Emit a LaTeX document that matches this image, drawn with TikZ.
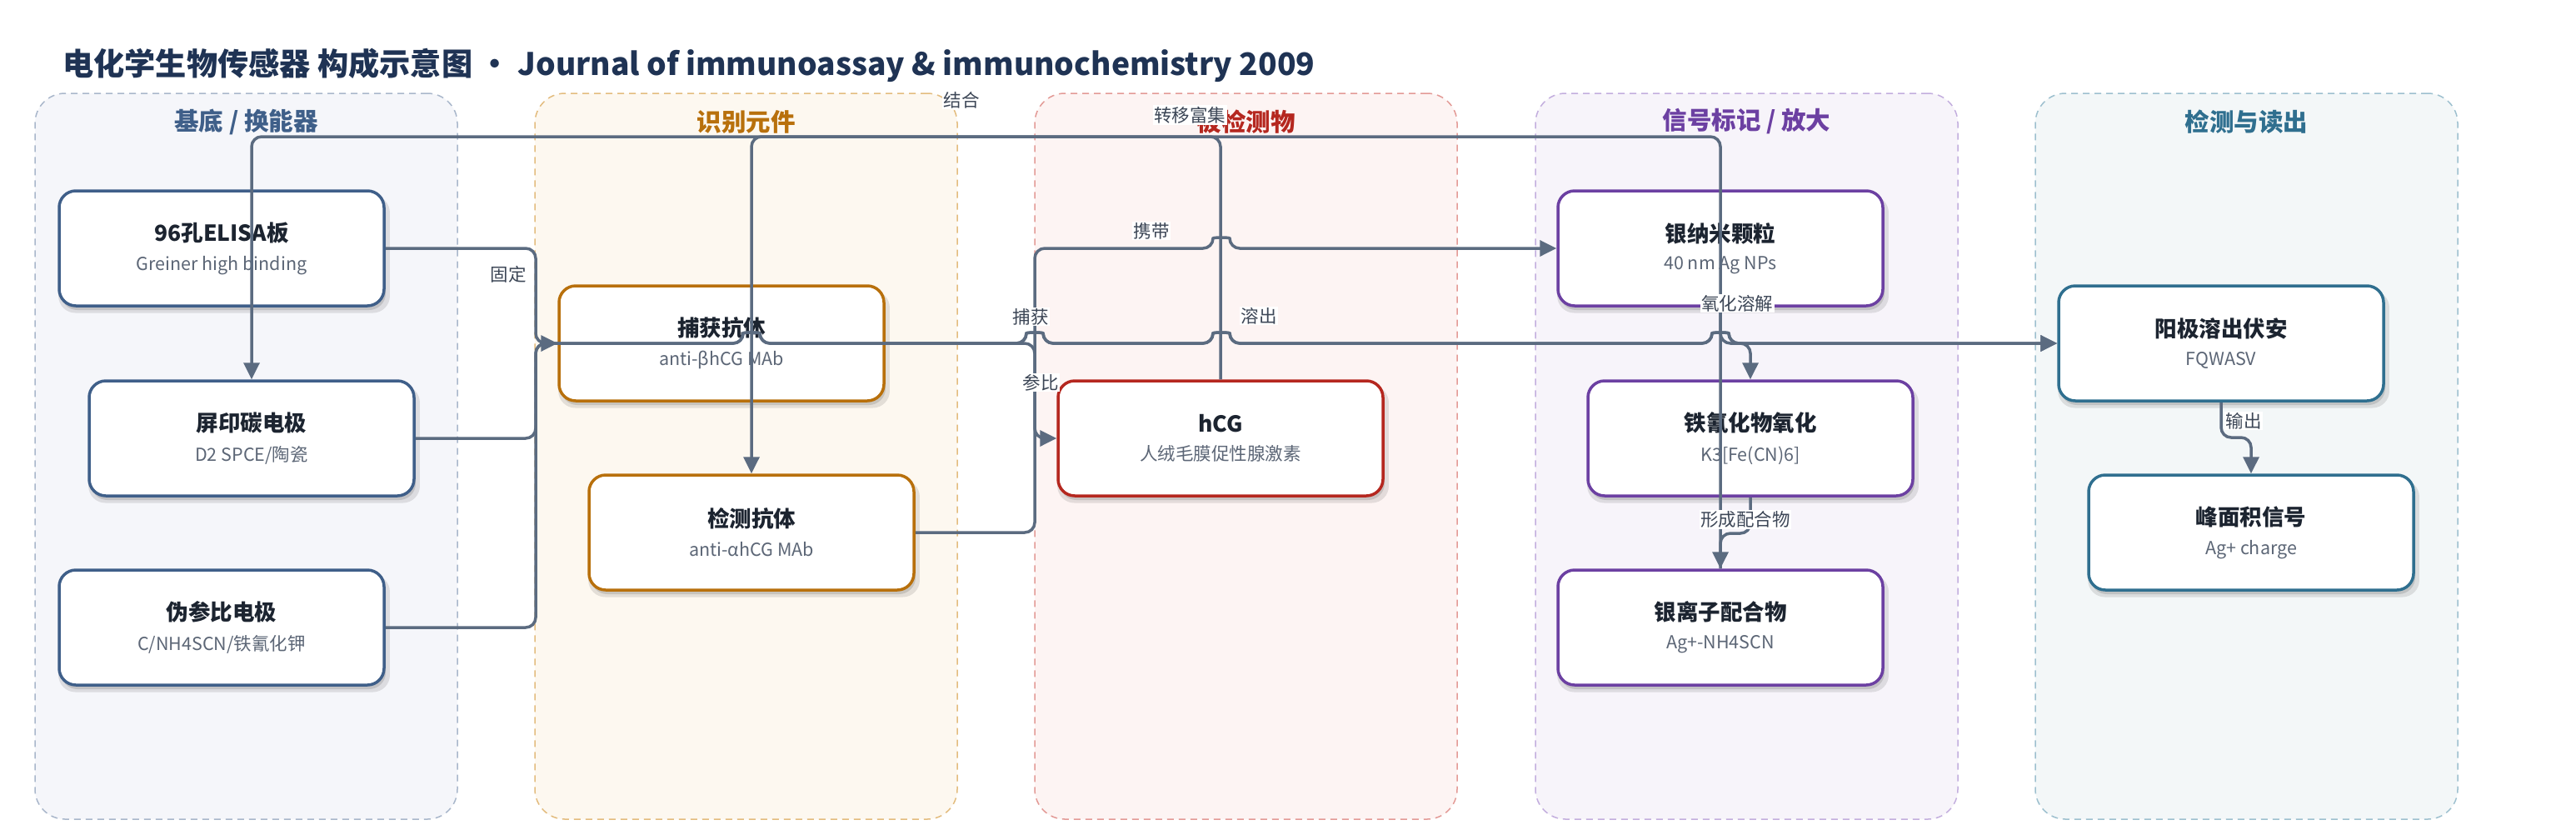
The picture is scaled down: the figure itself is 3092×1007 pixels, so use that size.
\documentclass[tikz,border=0pt]{standalone}
\usepackage{fontspec}
\setmainfont{Noto Sans CJK SC}
\usetikzlibrary{arrows.meta,shadows}
\definecolor{titlec}{HTML}{1F3354}
\definecolor{edgec}{HTML}{5B6B80}
\definecolor{labc}{HTML}{3C4656}
\definecolor{ntc}{HTML}{1C2430}
\definecolor{subc}{HTML}{5C6676}
\definecolor{cA}{HTML}{3F5F89}
\definecolor{cB}{HTML}{B8700C}
\definecolor{cC}{HTML}{B5271F}
\definecolor{cD}{HTML}{6C40A2}
\definecolor{cE}{HTML}{2F6F8F}
\definecolor{fA}{HTML}{F5F6FA}
\definecolor{fB}{HTML}{FDF8F0}
\definecolor{fC}{HTML}{FDF4F3}
\definecolor{fD}{HTML}{F7F4FA}
\definecolor{fE}{HTML}{F3F7F8}
\definecolor{dA}{HTML}{A9B7CB}
\definecolor{dB}{HTML}{E3BC7E}
\definecolor{dC}{HTML}{E39A96}
\definecolor{dD}{HTML}{C3AEDE}
\definecolor{dE}{HTML}{9DC0CF}
\newcommand\hop[2]{-- ({#1-10},#2) .. controls ({#1-10},{#2-13.3}) and ({#1+10},{#2-13.3}) .. ({#1+10},#2)}
\newcommand\ntitle[1]{{\fontsize{26.5}{30}\selectfont\bfseries\color{ntc}#1}}
\newcommand\nsub[1]{{\fontsize{21.5}{26}\selectfont\color{subc}#1}}
\tikzset{
  lanebox/.style n args={2}{rectangle, rounded corners=36pt, fill=#1, draw=#2, dash pattern=on 8pt off 6pt, line width=1.5pt, minimum width=507pt, minimum height=871pt, inner sep=0pt},
  lanetitle/.style={font=\fontsize{29.5}{34}\selectfont\bfseries, text=#1, inner sep=0pt},
  sbox/.style={rectangle, rounded corners=20pt, draw=#1, line width=3.5pt, fill=white, minimum width=390pt, minimum height=138pt, align=center, inner sep=0pt,
    drop shadow={shadow xshift=3pt, shadow yshift=-7pt, opacity=.10, fill=black, shadow scale=1.02},
    drop shadow={shadow xshift=2pt, shadow yshift=-5pt, opacity=.12, fill=black}},
  conn/.style={draw=edgec, line width=3.5pt, rounded corners=12pt, -{Triangle[length=20pt,width=19pt]}},
  elab/.style={fill=white, inner sep=1.5pt, font=\fontsize{21.5}{24}\selectfont, text=labc}
}
\begin{document}
\begin{tikzpicture}[x=1pt,y=-1pt]
\useasboundingbox (0,0) rectangle (3092,1007);
\fill[white] (0,0) rectangle (3092,1007);
% lanes
\node[lanebox={fA}{dA}] (lane1) at (295.5,547.5) {};
\node[lanebox={fB}{dB}] (lane2) at (895.5,547.5) {};
\node[lanebox={fC}{dC}] (lane3) at (1495.5,547.5) {};
\node[lanebox={fD}{dD}] (lane4) at (2096.5,547.5) {};
\node[lanebox={fE}{dE}] (lane5) at (2696.5,547.5) {};
\node[lanetitle=cA] (lt1) at (295.5,146) {基底 / 换能器};
\node[lanetitle=cB] (lt2) at (895.5,146) {识别元件};
\node[lanetitle=cC] (lt3) at (1495.5,146) {被检测物};
\node[lanetitle=cD] (lt4) at (2096.5,146) {信号标记 / 放大};
\node[lanetitle=cE] (lt5) at (2696.5,146) {检测与读出};
% title
\node[anchor=west, inner sep=0pt, font=\fontsize{37.2}{42}\selectfont\bfseries, text=titlec] (title) at (75,78) {电化学生物传感器 构成示意图 · Journal of immunoassay \& immunochemistry 2009};
% nodes
\node[sbox=cA] (elisa) at (266,298) {\ntitle{96孔ELISA板}\\[14pt]\nsub{Greiner high binding}};
\node[sbox=cA] (spce) at (302,526) {\ntitle{屏印碳电极}\\[14pt]\nsub{D2 SPCE/陶瓷}};
\node[sbox=cA] (pref) at (266,753) {\ntitle{伪参比电极}\\[14pt]\nsub{C/NH4SCN/铁氰化钾}};
\node[sbox=cB] (capab) at (866,412) {\ntitle{捕获抗体}\\[14pt]\nsub{anti-βhCG MAb}};
\node[sbox=cB] (detab) at (902,639) {\ntitle{检测抗体}\\[14pt]\nsub{anti-αhCG MAb}};
\node[sbox=cC] (hcg) at (1465,526) {\ntitle{hCG}\\[14pt]\nsub{人绒毛膜促性腺激素}};
\node[sbox=cD] (agnp) at (2065,298) {\ntitle{银纳米颗粒}\\[14pt]\nsub{40 nm Ag NPs}};
\node[sbox=cD] (ferri) at (2101,526) {\ntitle{铁氰化物氧化}\\[14pt]\nsub{K3[Fe(CN)6]}};
\node[sbox=cD] (agcx) at (2065,753) {\ntitle{银离子配合物}\\[14pt]\nsub{Ag+-NH4SCN}};
\node[sbox=cE] (asv) at (2666,412) {\ntitle{阳极溶出伏安}\\[14pt]\nsub{FQWASV}};
\node[sbox=cE] (peak) at (2702,639) {\ntitle{峰面积信号}\\[14pt]\nsub{Ag+ charge}};
% connectors
\draw[conn] (elisa.east) -- (643,298) -- (643,412) -- (capab.west);
\draw[conn] (spce.east) -- (643,526) -- (643,412) \hop{902}{412} \hop{1242}{412} \hop{1466}{412} \hop{2065}{412} -- (asv.west);
\draw[conn] (pref.east) -- (643,753) -- (643,412) \hop{902}{412} \hop{1242}{412} \hop{1466}{412} \hop{2065}{412} -- (asv.west);
\draw[conn] (capab.east) -- (1242,412) -- (1242,526) -- (hcg.west);
\draw[conn] (detab.east) -- (1242,639) -- (1242,298) \hop{1466}{298} -- (agnp.west);
\draw[conn] (hcg.north) -- (1465,164) -- (902,164) -- (detab.north);
\draw[conn] (agcx.north) -- (2065,164) -- (302,164) -- (spce.north);
\draw[conn] (agnp.south) -- (2065,412) -- (2101,412) -- (ferri.north);
\draw[conn] (ferri.south) -- (2101,640) -- (2065,640) -- (agcx.north);
\draw[conn] (asv.south) -- (2666,525) -- (2702,525) -- (peak.north);
% labels
\node[elab] (l1) at (610,329) {固定};
\node[elab] (l2) at (1154,120) {结合};
\node[elab] (l3) at (1428,138) {转移富集};
\node[elab] (l4) at (1382,277) {携带};
\node[elab] (l5) at (1237,380) {捕获};
\node[elab] (l6) at (1249,459) {参比};
\node[elab] (l7) at (1511,379) {溶出};
\node[elab] (l8) at (2085,364) {氧化溶解};
\node[elab] (l9) at (2095,623) {形成配合物};
\node[elab] (l10) at (2693,505) {输出};
\end{tikzpicture}
\end{document}
